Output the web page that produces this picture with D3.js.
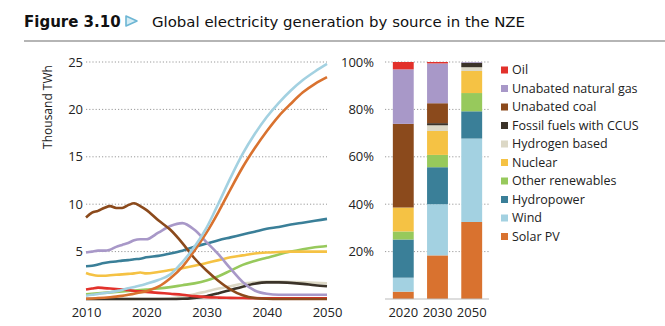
<!DOCTYPE html>
<html>
<head>
<meta charset="utf-8">
<script src="https://cdn.jsdelivr.net/npm/d3@7"></script>
<style>
  body { margin: 0; background: #fff; }
  svg { display: block; font-family: 'Open Sans', sans-serif; }
</style>
</head>
<body>
<svg id="chart" width="665" height="326"></svg>
<script>
// line chart years
const years = [2010, 2011, 2012, 2013, 2014, 2015, 2016, 2017, 2018, 2019, 2020,
  2022, 2024, 2026, 2028, 2030, 2032, 2034, 2036, 2038, 2040, 2042, 2044, 2046, 2048, 2050];

// thousand TWh
const oil = [1.0, 1.1, 1.2, 1.15, 1.1, 1.05, 1.0, 0.95, 0.85, 0.8, 0.75,
  0.65, 0.55, 0.45, 0.3, 0.2, 0.15, 0.12, 0.1, 0.09, 0.08, 0.08, 0.08, 0.08, 0.08, 0.08];
const gas = [4.9, 5.0, 5.1, 5.1, 5.2, 5.5, 5.7, 5.9, 6.2, 6.3, 6.3,
  7.0, 7.7, 8.0, 7.3, 6.0, 4.7, 3.2, 1.8, 0.9, 0.55, 0.45, 0.45, 0.45, 0.45, 0.45];
const coal = [8.6, 9.1, 9.3, 9.6, 9.8, 9.6, 9.6, 9.9, 10.1, 9.8, 9.4,
  8.3, 7.3, 5.9, 4.3, 3.0, 1.9, 1.0, 0.4, 0.1, 0.02, 0, 0, 0, 0, 0];
const ccus = [0, 0, 0, 0, 0, 0, 0, 0, 0, 0, 0,
  0, 0, 0.02, 0.12, 0.3, 0.6, 0.95, 1.3, 1.6, 1.75, 1.75, 1.7, 1.6, 1.45, 1.35];
const hydrogen = [0, 0, 0, 0, 0, 0, 0, 0, 0, 0, 0,
  0, 0.05, 0.25, 0.5, 0.8, 1.1, 1.35, 1.6, 1.75, 1.85, 1.85, 1.8, 1.75, 1.7, 1.65];
const nuclear = [2.75, 2.55, 2.45, 2.45, 2.5, 2.55, 2.6, 2.65, 2.7, 2.8, 2.7,
  2.85, 3.05, 3.25, 3.5, 3.8, 4.1, 4.4, 4.6, 4.8, 4.9, 4.95, 5.0, 5.0, 5.0, 5.0];
const otherRenewables = [0.5, 0.55, 0.6, 0.65, 0.7, 0.75, 0.8, 0.85, 0.9, 0.95, 1.0,
  1.1, 1.25, 1.45, 1.65, 1.95, 2.4, 3.0, 3.6, 4.0, 4.35, 4.7, 5.0, 5.25, 5.45, 5.6];
const hydro = [3.45, 3.5, 3.65, 3.8, 3.9, 3.95, 4.05, 4.1, 4.2, 4.25, 4.4,
  4.55, 4.8, 5.1, 5.5, 5.85, 6.2, 6.5, 6.8, 7.1, 7.4, 7.6, 7.85, 8.05, 8.25, 8.45];
const wind = [0.35, 0.45, 0.52, 0.63, 0.71, 0.83, 0.96, 1.13, 1.27, 1.42, 1.6,
  2.0, 2.6, 3.9, 5.5, 7.5, 10.1, 12.8, 15.3, 17.4, 19.2, 20.7, 22.0, 23.1, 24.0, 24.8];
const solar = [0.03, 0.06, 0.1, 0.14, 0.19, 0.25, 0.33, 0.44, 0.56, 0.68, 0.83,
  1.3, 2.2, 3.4, 5.1, 7.0, 9.2, 11.6, 13.9, 15.9, 17.7, 19.3, 20.6, 21.8, 22.7, 23.4];

const lineTicks = [5, 10, 15, 20, 25];
const yearTicks = [2010, 2020, 2030, 2040, 2050];

// bar chart: share of generation (%)
const barYears = ['2020', '2030', '2050'];
const barOil = [3.1, 0.6, 0];
const barGas = [23.0, 16.8, 0.3];
const barCoal = [35.3, 8.4, 0];
const barCcus = [0, 0.9, 1.9];
const barHydrogen = [0, 2.4, 1.6];
const barNuclear = [10.1, 10.1, 9.3];
const barOther = [3.4, 5.2, 7.7];
const barHydro = [16.1, 15.6, 11.5];
const barWind = [5.9, 21.6, 35.2];
const barSolar = [3.1, 18.4, 32.5];
const pctTicks = [20, 40, 60, 80, 100];

// legend order (top to bottom)
const sources = ['Oil', 'Unabated natural gas', 'Unabated coal', 'Fossil fuels with CCUS',
  'Hydrogen based', 'Nuclear', 'Other renewables', 'Hydropower', 'Wind', 'Solar PV'];
const colors = ['#e2312b', '#a898c8', '#8b4a1c', '#3b3329', '#dcd8c6',
  '#f5c244', '#97c95c', '#3a7f98', '#a3d1e1', '#d9722f'];

const lineSeries = [hydrogen, ccus, otherRenewables, nuclear, hydro, oil, gas, coal, solar, wind];
const lineKeys = ['Hydrogen based', 'Fossil fuels with CCUS', 'Other renewables', 'Nuclear',
  'Hydropower', 'Oil', 'Unabated natural gas', 'Unabated coal', 'Solar PV', 'Wind'];
const barSeries = [barOil, barGas, barCoal, barCcus, barHydrogen, barNuclear, barOther, barHydro, barWind, barSolar];

const color = d3.scaleOrdinal().domain(sources).range(colors);
const svg = d3.select('#chart');
const gridColor = '#9a9a9a';

function drawTitle() {
  svg.append('text')
    .attr('x', 24).attr('y', 26.5)
    .style('font-family', 'DejaVu Sans').style('font-weight', 'bold').style('font-size', '15px')
    .attr('fill', '#111')
    .text('Figure 3.10');
  svg.append('path')
    .attr('d', 'M126,16 L137,21 L126,26 Z')
    .attr('fill', '#d6edf5').attr('stroke', '#6db6d4').attr('stroke-width', 1.6)
    .attr('stroke-linejoin', 'round');
  svg.append('text')
    .attr('x', 152).attr('y', 26.5)
    .style('font-family', 'DejaVu Sans').style('font-size', '14.5px')
    .attr('fill', '#111')
    .attr('textLength', 373).attr('lengthAdjust', 'spacingAndGlyphs')
    .text('Global electricity generation by source in the NZE');
  svg.append('line')
    .attr('x1', 24).attr('x2', 665).attr('y1', 41).attr('y2', 41)
    .attr('stroke', '#9c9c9c').attr('stroke-width', 1.5);
}

function drawLines() {
  const x = d3.scaleLinear().domain([2010, 2050]).range([86, 327]);
  const y = d3.scaleLinear().domain([0, 25]).range([299, 62]);
  const g = svg.append('g');

  g.selectAll('.grid')
    .data(lineTicks)
    .join('line')
    .attr('x1', x(2010)).attr('x2', x(2050))
    .attr('y1', d => y(d)).attr('y2', d => y(d))
    .attr('stroke', gridColor).attr('stroke-width', 1).attr('stroke-dasharray', '1.2,2');

  g.append('line')
    .attr('x1', x(2010)).attr('x2', x(2050)).attr('y1', y(0)).attr('y2', y(0))
    .attr('stroke', '#bbb').attr('stroke-width', 1);

  const yAxis = d3.axisLeft(y).tickValues(lineTicks).tickSize(0).tickPadding(3);
  g.append('g')
    .attr('transform', `translate(${x(2010)},0)`)
    .call(yAxis)
    .call(a => a.select('.domain').remove())
    .call(a => a.selectAll('text').style('font-size', '13px').attr('fill', '#222').style('font-family', 'Open Sans'));

  const xAxis = d3.axisBottom(x).tickValues(yearTicks).tickFormat(d3.format('d')).tickSize(0).tickPadding(9);
  g.append('g')
    .attr('transform', `translate(0,${y(0)})`)
    .call(xAxis)
    .call(a => a.select('.domain').remove())
    .call(a => a.selectAll('text').style('font-size', '13px').attr('fill', '#222').style('font-family', 'Open Sans'));

  g.append('text')
    .attr('transform', 'translate(52,107) rotate(-90)')
    .attr('text-anchor', 'middle')
    .style('font-size', '12px').attr('fill', '#222')
    .text('Thousand TWh');

  const line = d3.line()
    .x((d, i) => x(years[i]))
    .y(d => y(d))
    .curve(d3.curveMonotoneX);

  g.selectAll('.series')
    .data(lineSeries)
    .join('path')
    .attr('d', line)
    .attr('fill', 'none')
    .attr('stroke', (d, i) => color(lineKeys[i]))
    .attr('stroke-width', 2.6)
    .attr('stroke-linejoin', 'round');
}

function drawBars() {
  const x = d3.scaleBand().domain(barYears).range([386, 489]).paddingInner(0.39).paddingOuter(0.2);
  const y = d3.scaleLinear().domain([0, 100]).range([299, 62]);
  const g = svg.append('g');

  g.selectAll('.grid')
    .data(pctTicks)
    .join('line')
    .attr('x1', 385).attr('x2', 489)
    .attr('y1', d => y(d)).attr('y2', d => y(d))
    .attr('stroke', gridColor).attr('stroke-width', 1).attr('stroke-dasharray', '1.2,2');

  const yAxis = d3.axisLeft(y).tickValues(pctTicks).tickFormat(d => d + '%').tickSize(0).tickPadding(11);
  g.append('g')
    .attr('transform', 'translate(385,0)')
    .call(yAxis)
    .call(a => a.select('.domain').remove())
    .call(a => a.selectAll('text').style('font-size', '13px').attr('fill', '#222').style('font-family', 'Open Sans'));

  // stack from bottom (solar) to top (oil)
  const table = barYears.map((yr, j) => {
    const row = {year: yr};
    sources.forEach((s, i) => { row[s] = barSeries[i][j]; });
    return row;
  });
  const stack = d3.stack().keys(sources.slice().reverse())(table);

  g.selectAll('.layer')
    .data(stack)
    .join('g')
    .attr('fill', d => color(d.key))
    .selectAll('rect')
    .data(d => d)
    .join('rect')
    .attr('x', d => x(d.data.year))
    .attr('width', x.bandwidth())
    .attr('y', d => y(d[1]))
    .attr('height', d => y(d[0]) - y(d[1]));

  g.append('line')
    .attr('x1', 385).attr('x2', 489).attr('y1', y(0)).attr('y2', y(0))
    .attr('stroke', '#bbb').attr('stroke-width', 1);

  const xAxis = d3.axisBottom(x).tickSize(0).tickPadding(9);
  g.append('g')
    .attr('transform', `translate(0,${y(0)})`)
    .call(xAxis)
    .call(a => a.select('.domain').remove())
    .call(a => a.selectAll('text').style('font-size', '13px').attr('fill', '#222').style('font-family', 'Open Sans'));
}

function drawLegend() {
  const g = svg.append('g').attr('transform', 'translate(501,70)');
  const item = g.selectAll('.item')
    .data(sources)
    .join('g')
    .attr('transform', (d, i) => `translate(0,${i * 18.5})`);
  item.append('rect')
    .attr('x', 0).attr('y', -3.5).attr('width', 7).attr('height', 7)
    .attr('fill', d => color(d));
  item.append('text')
    .attr('x', 11).attr('dy', '0.35em')
    .style('font-size', '12.5px').attr('fill', '#222')
    .text(d => d);
}

drawTitle();
drawLines();
drawBars();
drawLegend();
</script>
</body>
</html>
